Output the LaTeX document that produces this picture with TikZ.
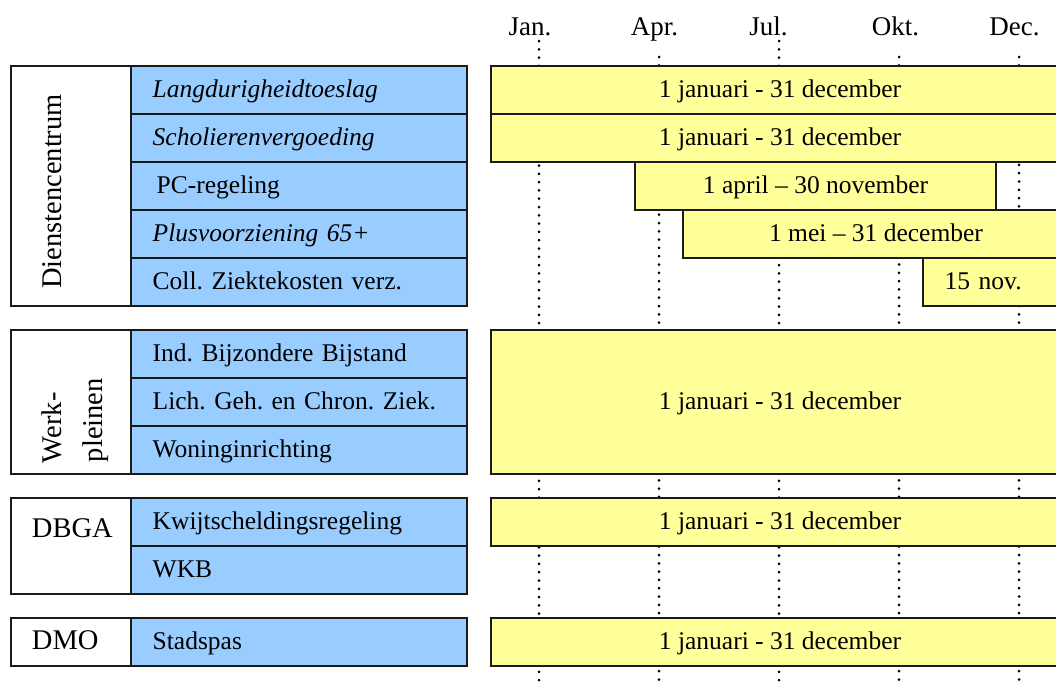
\documentclass[tikz,border=0pt]{standalone}
\usepackage{fontspec}
\setmainfont{Liberation Serif}
\definecolor{cellblue}{HTML}{99CCFF}
\definecolor{baryellow}{HTML}{FFFF99}
\definecolor{edge}{HTML}{1A1A1A}
\frenchspacing

\begin{document}
\begin{tikzpicture}[x=0.5pt,y=-0.5pt,
  every node/.style={inner sep=0pt, outer sep=0pt},
  txt/.style={font=\fontsize{12.75pt}{15pt}\selectfont, text height=8.4pt, text depth=0pt},
  grp/.style={font=\fontsize{14.25pt}{17pt}\selectfont, text height=9.4pt, text depth=0pt},
  hdr/.style={font=\fontsize{13.5pt}{16pt}\selectfont, text height=8.9pt, text depth=0pt},
  group/.style={draw=edge, line width=1pt, fill=white, anchor=north west, minimum width=59.85pt},
  cell/.style={draw=edge, line width=1pt, fill=cellblue, anchor=north west,
    minimum width=168pt, minimum height=24pt, txt, text width=146pt, inner xsep=11pt, align=left},
  bar/.style={draw=edge, line width=1pt, fill=baryellow, anchor=north west, minimum height=24pt, txt},
  gridline/.style={line width=1.5pt, dash pattern=on 0pt off 4.15pt, line cap=round, color=black}]

\useasboundingbox (0,0) rectangle (1056,681);
\clip (0,0) rectangle (1056,681);

% month markers along the top
\node[hdr] (mjan) at (530,27) {Jan.};
\node[hdr] (mapr) at (654.5,27) {Apr.};
\node[hdr] (mjul) at (768.5,27) {Jul.};
\node[hdr] (mokt) at (895.5,27) {Okt.};
\node[hdr] (mdec) at (1014.5,27) {Dec.};

% dotted month guides, drawn behind the bars
\coordinate (gjan) at (539,41);  \coordinate (ejan) at (539,690);
\coordinate (gapr) at (659,57);  \coordinate (eapr) at (659,690);
\coordinate (gjul) at (779,41);  \coordinate (ejul) at (779,690);
\coordinate (gokt) at (899,57);  \coordinate (eokt) at (899,690);
\coordinate (gdec) at (1019,57); \coordinate (edec) at (1019,690);
\draw[gridline] (gjan) -- (ejan);
\draw[gridline] (gapr) -- (eapr);
\draw[gridline] (gjul) -- (ejul);
\draw[gridline] (gokt) -- (eokt);
\draw[gridline] (gdec) -- (edec);

% department boxes
\node[group, minimum height=120pt] (dc) at (11,65.5) {};
\node[group, minimum height=72pt] (wp) at (11,329.5) {};
\node[group, minimum height=48pt] (dbga) at (11,497.5) {};
\node[group, minimum height=24pt] (dmo) at (11,617.5) {};

\node[grp, rotate=90] (dcl) at (52,191.5) {Dienstencentrum};
\node[grp, rotate=90, anchor=west] (wpl1) at (52.5,463) {Werk-};
\node[grp, rotate=90, anchor=west] (wpl2) at (93,462) {pleinen};
\node[grp, anchor=west] (dbgal) at (32,528) {DBGA};
\node[grp, anchor=west] (dmol) at (32,640) {DMO};

% schemes
\node[cell] (c1) at (130.7,65.5) {\textit{Langdurigheidtoeslag}};
\node[cell] (c2) at (130.7,113.5) {\textit{Scholierenvergoeding}};
\node[cell] (c3) at (130.7,161.5) {\hspace*{2pt}PC-regeling};
\node[cell] (c4) at (130.7,209.5) {\textit{Plusvoorziening 65+}};
\node[cell] (c5) at (130.7,257.5) {Coll. Ziektekosten verz.};
\node[cell] (c6) at (130.7,329.5) {Ind. Bijzondere Bijstand};
\node[cell] (c7) at (130.7,377.5) {Lich. Geh. en Chron. Ziek.};
\node[cell] (c8) at (130.7,425.5) {Woninginrichting};
\node[cell] (c9) at (130.7,497.5) {Kwijtscheldingsregeling};
\node[cell] (c10) at (130.7,545.5) {WKB};
\node[cell] (c11) at (130.7,617.5) {Stadspas};

% application periods
\node[bar, minimum width=289pt] (b1) at (491,65.5) {1 januari - 31 december};
\node[bar, minimum width=289pt] (b2) at (491,113.5) {1 januari - 31 december};
\node[bar, minimum width=180.5pt] (b3) at (635,161.5) {1 april – 30 november};
\node[bar, minimum width=193pt] (b4) at (683,209.5) {1 mei – 31 december};
\node[bar, minimum width=73pt, text width=51pt, inner xsep=11pt, align=left] (b5) at (922.7,257.5) {15 nov.};
\node[bar, minimum width=289pt, minimum height=72pt] (b6) at (491,329.5) {1 januari - 31 december};
\node[bar, minimum width=289pt] (b7) at (491,497.5) {1 januari - 31 december};
\node[bar, minimum width=289pt] (b8) at (491,617.5) {1 januari - 31 december};

\end{tikzpicture}
\end{document}
